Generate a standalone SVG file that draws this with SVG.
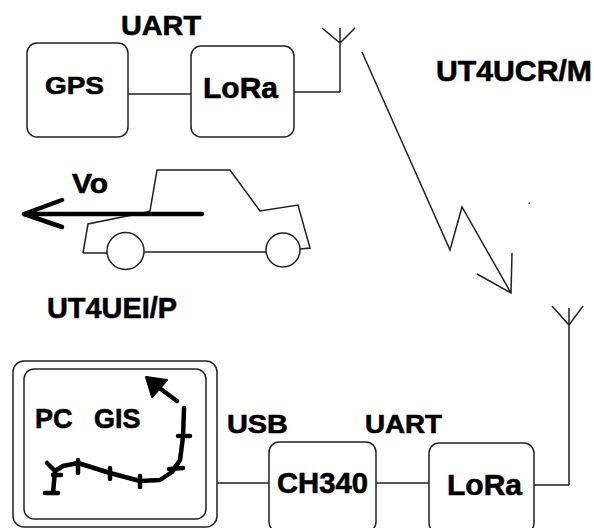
<svg xmlns="http://www.w3.org/2000/svg" width="594" height="528" viewBox="0 0 594 528">
  <style>
    .box { fill: #fff; stroke: #222; stroke-width: 1.5; }
    .wire { fill: none; stroke: #222; stroke-width: 1.5; }
    .thick { fill: none; stroke: #000; stroke-width: 4.5; stroke-linecap: round; stroke-linejoin: round; }
    .lbl { font-family: "Liberation Sans", Arial, sans-serif; font-weight: bold; fill: #000; stroke: #000; stroke-width: 0.6; }
  </style>
  <rect width="594" height="528" fill="#fff"/>

  <!-- connectors -->
  <g id="connectors">
    <path class="wire" d="M128,94 H191"/>
    <path class="wire" d="M294,92 H340"/>
    <path class="wire" d="M217,483 H269"/>
    <path class="wire" d="M376,483 H429"/>
    <path class="wire" d="M534,485 H569"/>
    <!-- radio link -->
    <path class="wire" d="M362,52 L450,250 L462,207 L511,293 M477,274 L511,293 L512,253"/>
  </g>

  <!-- mobile tracker -->
  <g id="gps">
    <rect class="box" x="27" y="43" width="101" height="94" rx="10"/>
    <text class="lbl" x="45" y="94" font-size="24" textLength="59" lengthAdjust="spacingAndGlyphs">GPS</text>
  </g>
  <g id="lora-tx">
    <rect class="box" x="191" y="46" width="103" height="91" rx="10"/>
    <text class="lbl" x="203" y="98" font-size="29" textLength="75" lengthAdjust="spacingAndGlyphs">LoRa</text>
  </g>
  <g id="antenna-tx">
    <path class="wire" d="M340,28 V92 M322,28 L340,43 L355,28"/>
  </g>
  <text class="lbl" x="121" y="35" font-size="28" textLength="80" lengthAdjust="spacingAndGlyphs">UART</text>
  <text class="lbl" x="436" y="81" font-size="30" textLength="156" lengthAdjust="spacingAndGlyphs">UT4UCR/M</text>

  <!-- vehicle -->
  <g id="car">
    <path class="wire" d="M83,253 L88,224 L147,212 L150,211 L157,170 L230,170 L260,211 L298,205 L310,248 L300,249"/>
    <path class="wire" d="M83,253 H107 M144,252 H266"/>
    <circle class="wire" cx="125.5" cy="251" r="18.5"/>
    <circle class="wire" cx="283" cy="250" r="17"/>
    <path class="thick" d="M202,214 H24 M62,200 L24,214 L62,227"/>
    <text class="lbl" x="72" y="193" font-size="28" textLength="36" lengthAdjust="spacingAndGlyphs">Vo</text>
  </g>
  <text class="lbl" x="47" y="318" font-size="29" textLength="130" lengthAdjust="spacingAndGlyphs">UT4UEI/P</text>

  <!-- base station -->
  <g id="pc-gis">
    <rect class="box" x="13" y="361" width="204" height="166" rx="11"/>
    <rect class="box" x="24" y="369" width="182" height="150" rx="10"/>
    <text class="lbl" x="35" y="428" font-size="27">PC <tspan x="94">GIS</tspan></text>
    <path class="thick" stroke-width="5" d="M47,463 L55,471 L53,493 M45,493 H58 M55,471 L63,466 L78,463 L110,473 L140,481 L160,480 L172,472 L180,460 L183,437 L184,408"/>
    <path class="thick" stroke-width="4.5" d="M78,460 V473 M110,468 V479 M140,476 V487 M169,469 L183,468 M178,436 H190 M53,475 H61"/>
    <path class="thick" stroke-width="5" d="M177,401 L154,384"/>
    <polygon points="146,377 167,380 152,397" fill="#000" stroke="#000" stroke-width="2" stroke-linejoin="round"/>
  </g>
  <g id="ch340">
    <rect class="box" x="269" y="442" width="107" height="90" rx="10"/>
    <text class="lbl" x="277" y="493" font-size="29" textLength="91" lengthAdjust="spacingAndGlyphs">CH340</text>
  </g>
  <g id="lora-rx">
    <rect class="box" x="429" y="443" width="105" height="90" rx="10"/>
    <text class="lbl" x="447" y="495" font-size="29" textLength="75" lengthAdjust="spacingAndGlyphs">LoRa</text>
  </g>
  <g id="antenna-rx">
    <path class="wire" d="M569,308 V485 M552,306 L569,325 L583,306"/>
  </g>
  <text class="lbl" x="227" y="433" font-size="25" textLength="61" lengthAdjust="spacingAndGlyphs">USB</text>
  <text class="lbl" x="365" y="433" font-size="25" textLength="77" lengthAdjust="spacingAndGlyphs">UART</text>
  <rect x="528.5" y="202.5" width="1.5" height="1.5" fill="#444"/>
</svg>
